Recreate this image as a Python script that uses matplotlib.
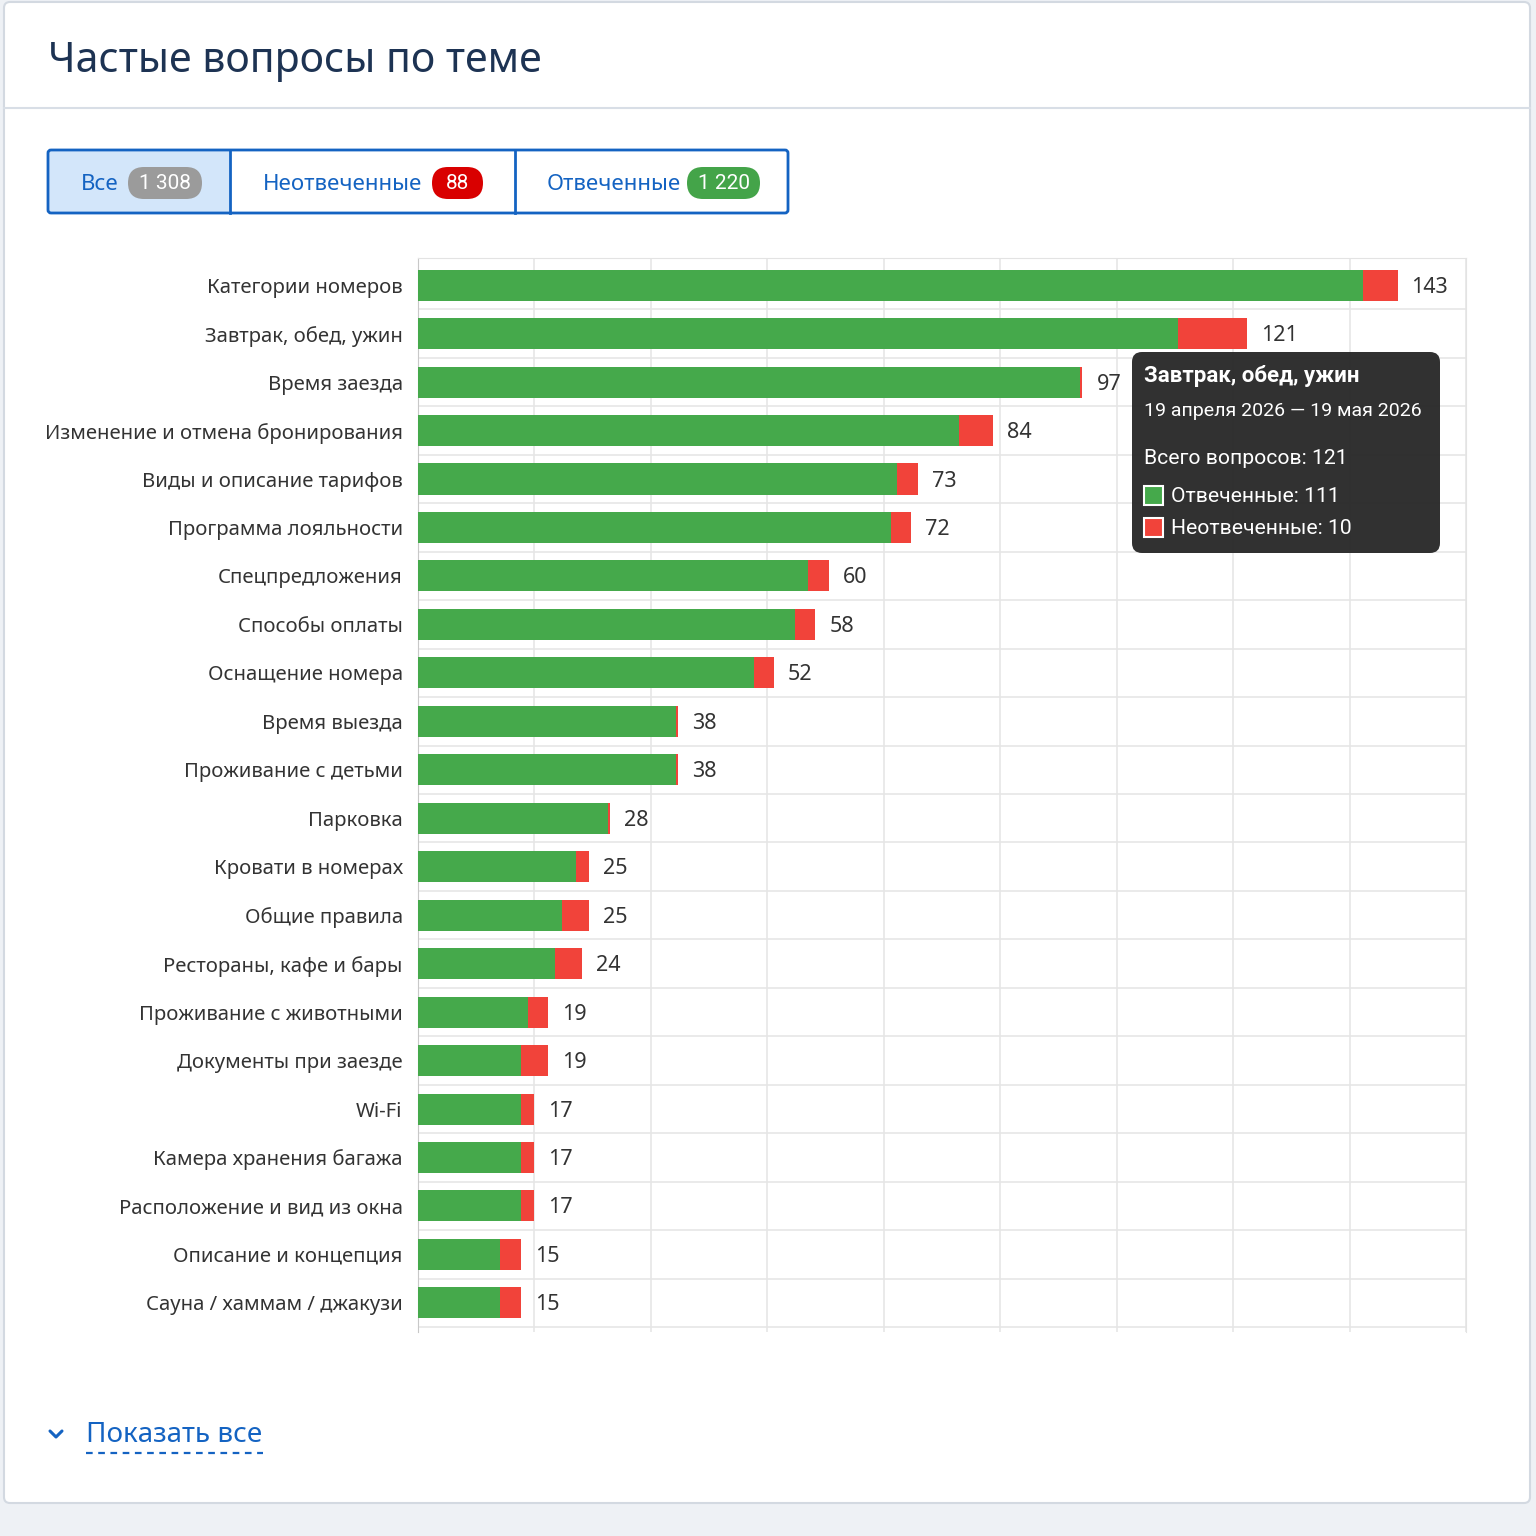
import numpy as np
import matplotlib
matplotlib.use("Agg")
import matplotlib.pyplot as plt
from matplotlib.patches import FancyBboxPatch, Rectangle

plt.rcParams['font.family'] = ['Noto Sans', 'DejaVu Sans']

# ---------------- data ----------------
categories = [
    "Категории номеров", "Завтрак, обед, ужин", "Время заезда",
    "Изменение и отмена бронирования", "Виды и описание тарифов",
    "Программа лояльности", "Спецпредложения", "Способы оплаты",
    "Оснащение номера", "Время выезда", "Проживание с детьми", "Парковка",
    "Кровати в номерах", "Общие правила", "Рестораны, кафе и бары",
    "Проживание с животными", "Документы при заезде", "Wi-Fi",
    "Камера хранения багажа", "Расположение и вид из окна",
    "Описание и концепция", "Сауна / хаммам / джакузи",
]
totals = [143, 121, 97, 84, 73, 72, 60, 58, 52, 38, 38, 28, 25, 25, 24, 19, 19, 17, 17, 17, 15, 15]
unanswered = [5, 10, 0.3, 5, 3, 3, 3, 3, 3, 0.3, 0.3, 0.3, 2, 4, 4, 3, 4, 2, 2, 2, 3, 3]
answered = [t - u for t, u in zip(totals, unanswered)]

tabs = ["Все", "Неотвеченные", "Отвеченные"]
tab_counts = ["1 308", "88", "1 220"]

title = "Частые вопросы по теме"
tooltip_title = "Завтрак, обед, ужин"
tooltip_period = "19 апреля 2026 — 19 мая 2026"
tooltip_total = 121
tooltip_answered = 111
tooltip_unanswered = 10
show_all = "Показать все"

GREEN = "#45a94b"
RED = "#f1433a"
BLUE = "#1463c2"
TEXT = "#333333"

W = H = 1536
fig = plt.figure(figsize=(15.36, 15.36), dpi=100)
fig.patch.set_facecolor("#eef1f5")

# background / decoration axes in pixel coordinates
bg = fig.add_axes([0, 0, 1, 1], zorder=0)
bg.set_xlim(0, W); bg.set_ylim(H, 0); bg.axis("off")

bg.add_patch(FancyBboxPatch((4, 2), 1526, 1501, boxstyle="round,pad=0,rounding_size=6",
                            facecolor="white", edgecolor="#d3d9e1", lw=1.5))
bg.plot([4, 1530], [108, 108], color="#d8dee6", lw=1.5)
bg.text(48, 61, title, fontsize=29.5, color="#1d3353", va="center", ha="left")

# tabs
tab_x = [48, 230, 515, 788]
tab_y0, tab_y1 = 150, 213
bg.add_patch(Rectangle((tab_x[0], tab_y0), tab_x[1] - tab_x[0], tab_y1 - tab_y0,
                       facecolor="#d3e6fa", edgecolor="none"))
bg.add_patch(FancyBboxPatch((tab_x[0], tab_y0), tab_x[-1] - tab_x[0], tab_y1 - tab_y0,
                            boxstyle="round,pad=0,rounding_size=3",
                            facecolor="none", edgecolor=BLUE, lw=2))
for xd in tab_x[1:-1]:
    bg.plot([xd, xd], [tab_y0, tab_y1], color=BLUE, lw=2)

label_x = [81, 263, 547]
badge_x = [(128, 202), (432, 483), (687, 760)]
badge_col = ["#9b9b9b", "#d90000", "#44a449"]
cy = 183
for lab, lx, (bx0, bx1), bc, cnt in zip(tabs, label_x, badge_x, badge_col, tab_counts):
    bg.text(lx, cy + 1.5, lab, fontsize=16, color=BLUE, va="center", ha="left")
    bg.add_patch(FancyBboxPatch((bx0, cy - 16), bx1 - bx0, 32,
                                boxstyle="round,pad=0,rounding_size=16",
                                facecolor=bc, edgecolor="none"))
    bg.text((bx0 + bx1) / 2, cy + 0.5, cnt, fontsize=15, color="white", va="center", ha="center",
            family=["Roboto", "DejaVu Sans"])

# show all link
bg.plot([50, 56, 62], [1431, 1437, 1431], color=BLUE, lw=2.2, solid_capstyle="round")
bg.text(86, 1435, show_all, fontsize=20, color=BLUE, va="center", ha="left")
bg.plot([86, 263], [1453, 1453], color=BLUE, lw=1.6, ls=(0, (3, 2.5)))

# ---------------- chart ----------------
L, R, T, B = 418, 1466, 258, 1332
ax = fig.add_axes([L / W, 1 - B / H, (R - L) / W, (B - T) / H], zorder=2)
n = len(categories)
y = np.arange(n)
xmax = 153.0
ax.barh(y, answered, height=0.64, color=GREEN, zorder=3)
ax.barh(y, unanswered, left=answered, height=0.64, color=RED, zorder=3)
ax.set_xlim(0, xmax)
ax.set_ylim(n - 0.4, -0.56)
ax.set_yticks(y)
ax.set_yticklabels(categories, fontsize=14.6, color=TEXT)
ax.tick_params(axis="y", length=0, pad=11)
ax.set_xticks(np.linspace(0, xmax, 10))
ax.tick_params(axis="x", length=0, labelbottom=False)
ax.set_yticks(np.arange(n) + 0.5, minor=True)
ax.tick_params(axis="y", which="minor", length=0)
ax.grid(True, axis="x", color="#e6e6e6", lw=1.2, zorder=0)
ax.grid(True, axis="y", which="minor", color="#e6e6e6", lw=1.2, zorder=0)
for s in ["top", "right", "bottom"]:
    ax.spines[s].set_color("#e3e3e3")
ax.spines["bottom"].set_visible(False)
ax.spines["left"].set_color("#c8c8c8")
for yi, t in zip(y, totals):
    ax.annotate(str(t), (t, yi), xytext=(14, -2), textcoords="offset pixels",
                va="center", ha="left", fontsize=15.5, color=TEXT)

# ---------------- tooltip ----------------
fg = fig.add_axes([0, 0, 1, 1], zorder=5)
fg.set_xlim(0, W); fg.set_ylim(H, 0); fg.axis("off")
fg.patch.set_alpha(0)
fg.add_patch(FancyBboxPatch((1132, 352), 308, 201, boxstyle="round,pad=0,rounding_size=10",
                            facecolor="#2a2a2a", edgecolor="none", alpha=0.97))
tf = ["Roboto", "DejaVu Sans"]
fg.text(1144, 376, tooltip_title, fontsize=16, color="white", weight="bold", va="center", family=tf)
fg.text(1144, 411, tooltip_period, fontsize=14, color="white", va="center", family=tf)
fg.text(1144, 458, f"Всего вопросов: {tooltip_total}", fontsize=15.2, color="white", va="center", family=tf)
for yy, col, txt in [(496, GREEN, f"Отвеченные: {tooltip_answered}"),
                     (528, RED, f"Неотвеченные: {tooltip_unanswered}")]:
    fg.add_patch(Rectangle((1144, yy - 10), 19, 19, facecolor=col, edgecolor="white", lw=1.5))
    fg.text(1171, yy, txt, fontsize=15.2, color="white", va="center", family=tf)

fig.savefig("out.png", dpi=100)
